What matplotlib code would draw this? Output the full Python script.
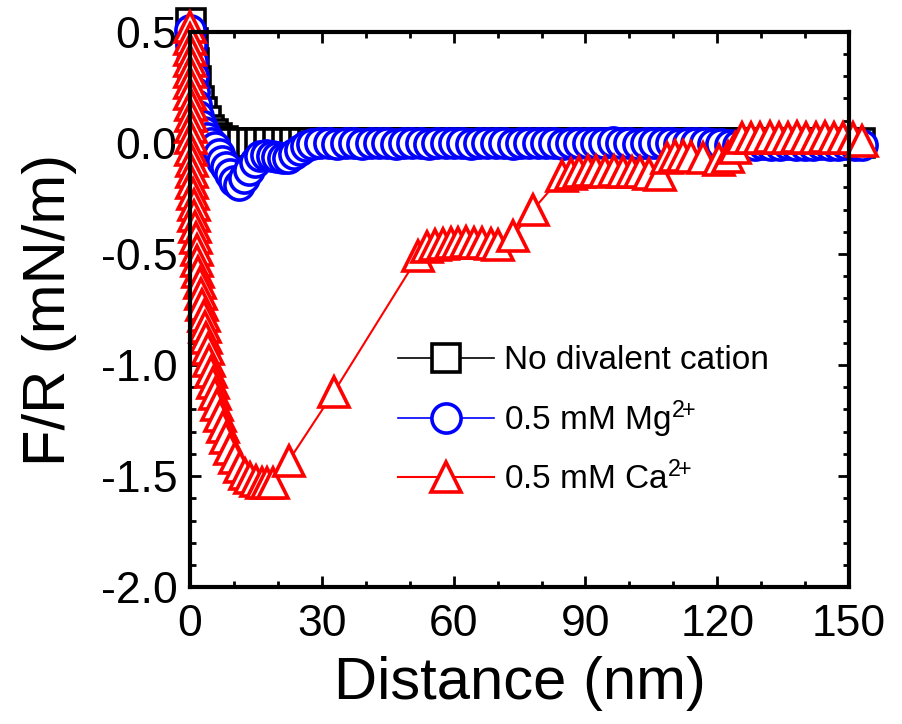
import matplotlib
matplotlib.use("Agg")
import matplotlib.pyplot as plt
from matplotlib.ticker import MultipleLocator

plt.rcParams['font.family'] = ['Liberation Sans', 'DejaVu Sans']
plt.rcParams['mathtext.fontset'] = 'custom'
plt.rcParams['mathtext.rm'] = 'Liberation Sans'
plt.rcParams['mathtext.it'] = 'Liberation Sans'

# No divalent cation
d_none = [0.2, 0.6, 1.0, 1.4, 2.0, 2.8, 3.6, 4.4, 5.2, 6.2, 7.4, 8.8,
          10, 12, 14, 16, 18, 20, 22, 24, 26, 28, 30, 32, 34, 36, 38, 40,
          42, 44, 46, 48, 50, 52, 54, 56, 58, 60, 62, 64, 66, 68, 70, 72,
          74, 76, 78, 80, 82, 84, 86, 88, 90, 92, 94, 96, 98, 100, 102, 104,
          106, 108, 110, 112, 114, 116, 118, 120, 122, 124, 126, 128, 130,
          132, 134, 136, 138, 140, 142, 144, 146, 148, 150, 152.5]
f_none = [0.54, 0.45, 0.36, 0.28, 0.19, 0.14, 0.10, 0.06, 0.04, 0.02, 0.01, 0.0,
          0, 0, 0, 0, 0, 0, 0, 0, 0, 0, 0, 0, 0, 0, 0, 0,
          0, 0, 0, 0, 0, 0, 0, 0, 0, 0, 0, 0, 0, 0, 0, 0,
          0, 0, 0, 0, 0, 0, 0, 0, 0, 0, 0, 0, 0, 0, 0, 0,
          0, 0, 0, 0, 0, 0, 0, 0, 0, 0, 0, 0, 0,
          0, 0, 0, 0, 0, 0, 0, 0, 0, 0, 0]

# 0.5 mM Mg2+
d_mg = [0.0, 0.2, 0.4, 0.6, 0.9, 1.3, 1.8, 2.4, 3.1, 3.9, 4.8, 5.7, 6.5,
        7.3, 8.2, 9.1, 10.1, 11.2, 12.4, 13.5, 14.8, 16.0, 17.3, 18.6,
        19.9, 21.1, 22.3, 23.6, 25.0, 26.4, 27.8,
        29.7, 31.6, 33.5, 35.4, 37.3, 39.2, 41.1, 43.0, 44.9, 46.8, 48.7,
        50.6, 52.5, 54.4, 56.3, 58.2, 60.1, 62.0, 63.9, 65.8, 67.7, 69.6,
        71.5, 73.4, 75.3, 77.2, 79.1, 81.0, 82.9, 84.8, 86.7, 88.6, 90.5,
        92.4, 94.3, 96.2, 98.1, 100.0, 101.9, 103.8, 105.7, 107.6, 109.5,
        111.4, 113.3, 115.2, 117.1, 119.0, 120.9, 122.8, 124.7, 126.6,
        128.5, 130.4, 132.3, 134.2, 136.1, 138.0, 139.9, 141.8, 143.7,
        145.6, 147.5, 149.4, 151.3, 153.0]
f_mg = [0.51, 0.44, 0.37, 0.30, 0.23, 0.17, 0.12, 0.08, 0.05, 0.02, 0.0, -0.02, -0.05,
        -0.08, -0.11, -0.14, -0.17, -0.19, -0.16, -0.12, -0.085, -0.06, -0.055, -0.06,
        -0.065, -0.07, -0.07, -0.05, -0.03, -0.015, -0.005,
        0.0, 0.0, -0.005, 0.0, 0.0, -0.005, 0.0, 0.0, 0.0, -0.005, 0.0,
        0.0, 0.0, -0.005, 0.0, 0.0, 0.0, 0.0, -0.005, 0.0, 0.0, 0.0,
        0.0, -0.005, 0.0, 0.0, 0.0, 0.0, 0.0, -0.005, 0.0, 0.0, 0.0,
        0.0, 0.0, 0.005, 0.0, 0.0, -0.005, 0.0, 0.0, 0.0, 0.0,
        -0.005, 0.0, 0.0, 0.0, -0.005, -0.005, -0.01, -0.01, -0.01,
        -0.01, -0.005, -0.01, -0.01, -0.005, -0.01, -0.01, -0.01, -0.005,
        -0.01, -0.01, -0.005, -0.01, -0.01]

# 0.5 mM Ca2+
d_ca = [0.0, 0.0, 0.0, 0.05, 0.05, 0.1, 0.1, 0.15, 0.2, 0.2, 0.25, 0.3,
        0.35, 0.45, 0.55, 0.65, 0.8, 0.95, 1.1, 1.3, 1.5, 1.7, 1.9, 2.2,
        2.5, 2.8, 3.1, 3.4, 3.7, 4.0, 4.4, 4.8, 5.2, 5.7, 6.2, 6.8, 7.5,
        8.3, 9.2, 10.2, 11.3, 12.5, 13.7, 15.0, 16.3, 17.6, 19.0,
        22.5, 32.8, 52.0,
        54.0, 55.7, 57.5, 59.3, 61.0, 62.8, 64.6, 66.5, 68.4, 70.2,
        73.5, 78.1, 84.7,
        86.6, 88.5, 90.5, 92.5, 94.5, 96.5, 98.5, 100.5, 102.5, 104.5,
        107.0, 108.5, 110.3, 112.1, 114.0, 116.8, 120.5, 122.5, 124.0,
        125.6, 127.7, 129.8, 131.9, 134.0, 136.1, 138.2, 140.3, 142.4,
        144.5, 146.6, 148.7, 150.8, 153.0]
f_ca = [0.52, 0.47, 0.42, 0.37, 0.32, 0.27, 0.22, 0.17, 0.12, 0.07, 0.02, -0.03,
        -0.08, -0.13, -0.18, -0.23, -0.28, -0.33, -0.38, -0.43, -0.48, -0.53, -0.58, -0.63,
        -0.68, -0.73, -0.78, -0.83, -0.88, -0.93, -0.98, -1.03, -1.08, -1.13, -1.18, -1.23, -1.28,
        -1.33, -1.38, -1.42, -1.46, -1.49, -1.51, -1.52, -1.53, -1.53, -1.53,
        -1.43, -1.12, -0.51,
        -0.47, -0.46, -0.455, -0.45, -0.45, -0.445, -0.45, -0.45, -0.455, -0.46,
        -0.42, -0.30, -0.15,
        -0.14, -0.13, -0.125, -0.125, -0.13, -0.125, -0.13, -0.13, -0.13, -0.14,
        -0.145, -0.07, -0.06, -0.06, -0.065, -0.07, -0.075, -0.065, -0.025,
        0.02, 0.02, 0.02, 0.025, 0.02, 0.02, 0.025, 0.02, 0.02,
        0.025, 0.02, 0.02, 0.02, 0.01]

fig = plt.figure(figsize=(9.03, 7.24), dpi=100)
ax = fig.add_axes([0.2104, 0.189, 0.7299, 0.767])

ms = 21
mew = 2.6
ax.plot(d_none, f_none, '-s', color='black', mfc='white', ms=ms - 1, mew=mew, lw=1.2,
        clip_on=False, label='No divalent cation')
ax.plot(d_mg, f_mg, '-o', color='#0000ff', mfc='white', ms=ms, mew=mew, lw=1.2,
        clip_on=False, label='0.5 mM Mg$^{2\\!\\!+}$')
ax.plot(d_ca, f_ca, '-^', color='#ff0000', mfc='white', ms=ms, mew=mew, lw=1.5,
        clip_on=False, label='0.5 mM Ca$^{2\\!\\!+}$')

ax.set_xlim(0, 150)
ax.set_ylim(-2.0, 0.5)
ax.xaxis.set_major_locator(MultipleLocator(30))
ax.xaxis.set_minor_locator(MultipleLocator(10))
ax.yaxis.set_major_locator(MultipleLocator(0.5))
ax.yaxis.set_minor_locator(MultipleLocator(0.1))
ax.set_yticks([0.5, 0.0, -0.5, -1.0, -1.5, -2.0])
ax.set_yticklabels(['0.5', '0.0', '-0.5', '-1.0', '-1.5', '-2.0'])

for s in ax.spines.values():
    s.set_linewidth(3)
ax.tick_params(which='both', direction='in', top=True, right=True, width=2)
ax.tick_params(which='major', length=8, labelsize=32)
ax.tick_params(axis='y', which='major', pad=9)
ax.tick_params(axis='x', which='major', pad=12)
ax.tick_params(which='minor', length=4.5)

ax.set_xlabel('Distance (nm)', fontsize=43, labelpad=8)
ax.set_ylabel('F/R (mN/m)', fontsize=43, labelpad=17)

leg = ax.legend(loc='center left', bbox_to_anchor=(0.315, 0.30), frameon=False,
                fontsize=24, numpoints=1, handlelength=2.9, handletextpad=0.3,
                labelspacing=0.65, borderpad=0, borderaxespad=0)

fig.savefig('out.png', dpi=100)
